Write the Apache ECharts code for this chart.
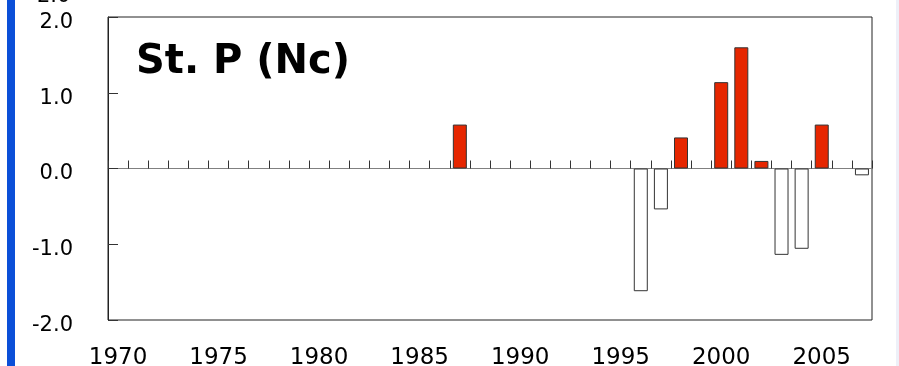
<!DOCTYPE html>
<html>
<head>
<meta charset="utf-8">
<script src="https://cdn.jsdelivr.net/npm/echarts@6/dist/echarts.min.js"></script>
<style>
html,body{margin:0;padding:0;background:#fff;}
#chart{width:899px;height:366px;}
</style>
</head>
<body>
<div id="chart"></div>
<script>
var years = [];
for (var y = 1970; y <= 2007; y++) years.push(String(y));
// values per year (null = no bar)
var values = [
  null, null, null, null, null, null, null, null, null, null, // 1970-1979
  null, null, null, null, null, null, null, 0.58, null, null, // 1980-1989
  null, null, null, null, null, null, -1.62, -0.54, 0.41, null, // 1990-1999
  1.14, 1.60, 0.10, -1.14, -1.06, 0.58, null, -0.09          // 2000-2007
];
var yTicks = [-2, -1, 0, 1, 2];
var xLabelYears = ['1970','1975','1980','1985','1990','1995','2000','2005'];
var titleText = 'St. P (Nc)';

var chart = echarts.init(document.getElementById('chart'), null, {renderer: 'canvas'});
var FONT = 'DejaVu Sans';
chart.setOption({
  animation: false,
  backgroundColor: '#fff',
  title: {
    text: titleText,
    left: 136, top: 43, padding: 0,
    textStyle: {fontFamily: FONT, fontWeight: 'bold', fontSize: 40, color: '#000'}
  },
  grid: {left: 108, right: 27, top: 17, bottom: 46, containLabel: false, outerBoundsMode: 'none',
    show: true, borderColor: '#222', borderWidth: 1, backgroundColor: 'transparent'},
  xAxis: [{
    type: 'category', data: years, boundaryGap: true, position: 'bottom',
    axisLine: {onZero: true, lineStyle: {color: '#808080', width: 1.2}},
    axisTick: {show: true, inside: true, length: 8, interval: 0, alignWithLabel: false, lineStyle: {color: '#333', width: 1}},
    axisLabel: {show: false},
    splitLine: {show: false}
  }, {
    type: 'category', data: years, boundaryGap: true, position: 'bottom',
    axisLine: {show: false, onZero: false},
    axisTick: {show: false},
    axisLabel: {
      show: true, interval: 0, margin: 27,
      fontFamily: FONT, fontSize: 23, color: '#000',
      formatter: function (v) { return xLabelYears.indexOf(v) >= 0 ? v : ''; }
    },
    splitLine: {show: false}
  }],
  yAxis: {
    type: 'value', min: -2, max: 2, interval: 1,
    axisLine: {show: true, onZero: false, lineStyle: {color: '#222', width: 1}},
    axisTick: {show: true, inside: true, length: 10, lineStyle: {color: '#333', width: 1}},
    axisLabel: {
      margin: 35, fontFamily: FONT, fontSize: 21, color: '#000',
      verticalAlign: 'top', lineHeight: 11,
      formatter: function (v) { return yTicks.indexOf(v) >= 0 ? v.toFixed(1) : ''; }
    },
    splitLine: {show: false}
  },
  graphic: [
    {type: 'rect', left: 7, top: 0, shape: {width: 8, height: 366}, style: {fill: '#0b4fd8'}, z: 10},
    {type: 'rect', left: 896, top: 0, shape: {width: 3, height: 366}, style: {fill: '#eef0f8'}, z: 10},
    {type: 'text', left: 37, top: -14, style: {text: '2.0', font: '21px "DejaVu Sans"', fill: '#000'}, z: 10}
  ],
  series: [{
    type: 'bar', xAxisIndex: 0, yAxisIndex: 0,
    data: values, barWidth: 14,
    itemStyle: {
      borderColor: '#333', borderWidth: 1,
      color: function (p) { return p.value >= 0 ? '#e62600' : '#ffffff'; }
    }
  }]
});
</script>
</body>
</html>
